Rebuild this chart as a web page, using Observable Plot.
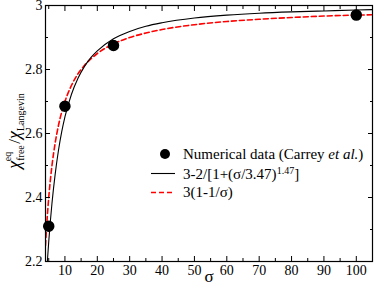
<!DOCTYPE html>
<html>
<head>
<meta charset="utf-8">
<script src="https://cdn.jsdelivr.net/npm/d3@7"></script>
<script src="https://cdn.jsdelivr.net/npm/@observablehq/plot@0.6"></script>
<style>
  html, body { margin: 0; padding: 0; background: white; }
  #chart svg { display: block; }
  #chart svg, #chart svg text, #chart svg tspan { font-family: "Liberation Serif", "Times New Roman", serif !important; }
</style>
</head>
<body>
<div id="chart"></div>
<script>
const dataSigma = [5, 10, 25, 100];
const dataChi = [2.31, 2.685, 2.875, 2.97];
const fitSigma = [4.57, 5, 5.5, 6, 7, 8, 9, 10, 12, 14, 16, 18, 20, 25, 30, 35, 40, 50, 60, 70, 80, 90, 100, 105];
const fitChi   = [2.2, 2.262, 2.326, 2.382, 2.474, 2.547, 2.605, 2.652, 2.722, 2.772, 2.809, 2.837, 2.858, 2.896, 2.919, 2.935, 2.946, 2.961, 2.970, 2.976, 2.980, 2.983, 2.986, 2.987];
const redSigma = [4, 4.5, 5, 6, 7, 8, 9, 10, 12, 14, 16, 18, 20, 25, 30, 35, 40, 50, 60, 70, 80, 90, 100, 105];
const redChi   = [2.25, 2.333, 2.4, 2.5, 2.571, 2.625, 2.667, 2.7, 2.75, 2.786, 2.8125, 2.833, 2.85, 2.88, 2.9, 2.914, 2.925, 2.94, 2.95, 2.957, 2.9625, 2.967, 2.97, 2.971];
const xMajor = [10, 20, 30, 40, 50, 60, 70, 80, 90, 100];
const xMinor = [5, 15, 25, 35, 45, 55, 65, 75, 85, 95];
const yMajor = [2.2, 2.4, 2.6, 2.8, 3];
const yMinor = [2.3, 2.5, 2.7, 2.9];
const xDomain = [4, 105];
const yDomain = [2.2, 3];
const legendLabels = ["Numerical data (Carrey ", "et al.", ")", "3-2/[1+(σ/3.47)", "1.47", "]", "3(1-1/σ)"];

const points = dataSigma.map((s, i) => ({s, v: dataChi[i]}));
const fit = fitSigma.map((s, i) => ({s, v: fitChi[i]}));
const red = redSigma.map((s, i) => ({s, v: redChi[i]}));

const plot = Plot.plot({
  width: 374,
  height: 286,
  marginLeft: 45,
  marginRight: 2,
  marginTop: 5,
  marginBottom: 25,
  style: {fontSize: "14px", background: "white", color: "black", overflow: "visible"},
  x: {domain: xDomain},
  y: {domain: yDomain},
  marks: [
    Plot.line(red, {x: "s", y: "v", stroke: "#ff0000", strokeWidth: 1.6, strokeDasharray: "5,3", curve: "monotone-x", clip: true}),
    Plot.line(fit, {x: "s", y: "v", stroke: "black", strokeWidth: 1.1, curve: "monotone-x", clip: true}),
    Plot.dot(points, {x: "s", y: "v", r: 5, fill: "black", stroke: "black"}),
    Plot.frame({stroke: "black", strokeWidth: 1.2}),
    Plot.axisX(xMajor, {anchor: "bottom", tickSize: -5, tickPadding: 9, fontSize: 14, label: null}),
    Plot.axisX(xMinor, {anchor: "bottom", tickSize: -3, text: null, label: null}),
    Plot.axisX(xMajor, {anchor: "top", tickSize: -5, text: null, label: null}),
    Plot.axisX(xMinor, {anchor: "top", tickSize: -3, text: null, label: null}),
    Plot.axisY(yMajor, {anchor: "left", tickSize: -5, tickPadding: 8, fontSize: 14, label: null, tickFormat: d => String(d)}),
    Plot.axisY(yMinor, {anchor: "left", tickSize: -3, text: null, label: null}),
    Plot.axisY(yMajor, {anchor: "right", tickSize: -5, text: null, label: null}),
    Plot.axisY(yMinor, {anchor: "right", tickSize: -3, text: null, label: null}),
    Plot.text(["σ"], {frameAnchor: "bottom", dy: 20, fontSize: 17})
  ]
});

document.getElementById("chart").appendChild(plot);
const svg = d3.select(plot);

const yl = svg.append("text")
  .attr("transform", "translate(20,131) rotate(-90)")
  .attr("text-anchor", "middle")
  .attr("fill", "black");
yl.append("tspan").attr("font-size", 18).attr("font-style", "italic").text("χ");
yl.append("tspan").attr("font-size", 10).attr("dy", 4).text("free");
yl.append("tspan").attr("font-size", 10).attr("dx", -16).attr("dy", -13).text("eq");
yl.append("tspan").attr("font-size", 17).attr("dx", 8).attr("dy", 9).text("/");
yl.append("tspan").attr("font-size", 18).attr("font-style", "italic").text("χ");
yl.append("tspan").attr("font-size", 10).attr("dy", 4).text("Langevin");

const lg = svg.append("g").attr("font-size", 15).attr("fill", "black").attr("text-anchor", "start");
lg.append("circle").attr("cx", 165).attr("cy", 154).attr("r", 5).attr("fill", "black");
const t1 = lg.append("text").attr("x", 183).attr("y", 158.5);
t1.append("tspan").text(legendLabels[0]);
t1.append("tspan").attr("font-style", "italic").text(legendLabels[1]);
t1.append("tspan").text(legendLabels[2]);
lg.append("line").attr("x1", 151).attr("x2", 175).attr("y1", 173.5).attr("y2", 173.5).attr("stroke", "black").attr("stroke-width", 1.1);
const t2 = lg.append("text").attr("x", 183).attr("y", 178.5);
t2.append("tspan").text(legendLabels[3]);
t2.append("tspan").attr("font-size", 10).attr("dy", -5).text(legendLabels[4]);
t2.append("tspan").attr("dy", 5).text(legendLabels[5]);
lg.append("line").attr("x1", 151).attr("x2", 175).attr("y1", 192.5).attr("y2", 192.5).attr("stroke", "#ff0000").attr("stroke-width", 1.6).attr("stroke-dasharray", "5,3");
lg.append("text").attr("x", 183).attr("y", 197).text(legendLabels[6]);
</script>
</body>
</html>
